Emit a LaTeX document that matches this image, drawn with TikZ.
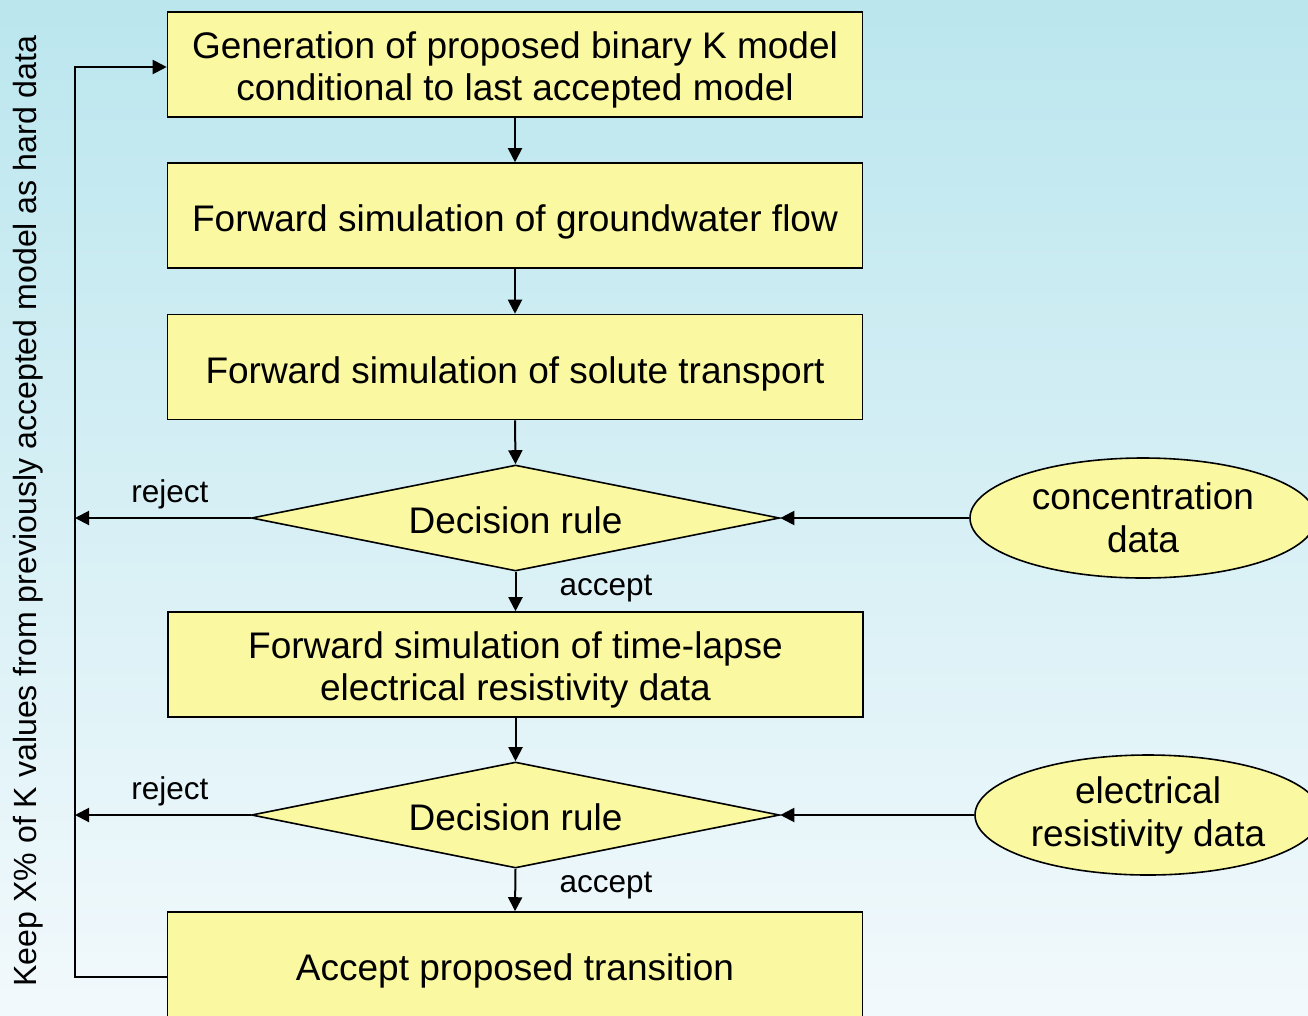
\documentclass[tikz,border=0pt]{standalone}
\usepackage{fontspec}
\setmainfont{Liberation Sans}
\usetikzlibrary{shapes.geometric,arrows.meta}
\definecolor{bgtop}{RGB}{187,230,238}
\definecolor{bgbot}{RGB}{242,249,252}
\definecolor{boxfill}{RGB}{250,248,160}
\tikzset{
  stepbox/.style={draw=black, line width=1.6pt, fill=boxfill, rectangle,
    minimum width=695pt, minimum height=105pt, inner sep=0pt, align=center,
    font=\fontsize{37}{42}\selectfont, text height=32pt, text depth=0pt},
  twoline/.style={text height=71pt, text depth=0pt},
  decide/.style={draw=black, line width=1.6pt, fill=boxfill, diamond,
    minimum width=528pt, minimum height=106pt, aspect=5, inner sep=0pt,
    font=\fontsize{37}{42}\selectfont, text height=30pt, text depth=0pt},
  datasrc/.style={draw=black, line width=1.6pt, fill=boxfill, ellipse,
    minimum width=346pt, minimum height=120pt, inner sep=0pt, align=center,
    font=\fontsize{37}{43}\selectfont},
  arr/.style={line width=2pt, -{Triangle[length=14pt,width=14pt]}},
  lbl/.style={font=\fontsize{31.5}{36}\selectfont, anchor=base, inner sep=0pt}
}
\begin{document}
\begin{tikzpicture}[x=1pt, y=-1pt]
  \useasboundingbox (0,0) rectangle (1308,1015);
  \clip (0,0) rectangle (1308,1015);
  \shade[top color=bgtop, bottom color=bgbot] (0,0) rectangle (1308,1015);

  % process steps
  \node[stepbox, twoline] (gen) at (515,64.5) {Generation of proposed binary K model\\conditional to last accepted model};
  \node[stepbox] (flow) at (515,215.5) {Forward simulation of groundwater flow};
  \node[stepbox] (trans) at (515,367) {Forward simulation of solute transport};
  \node[decide] (dec1) at (515.5,518) {Decision rule};
  \node[stepbox, twoline] (ert) at (515.5,664.5) {Forward simulation of time-lapse\\electrical resistivity data};
  \node[decide] (dec2) at (515.5,815) {Decision rule};
  \node[stepbox] (acc) at (515,964.5) {Accept proposed transition};

  % observed data
  \node[datasrc] (conc) at (1143,518) {concentration\\data};
  \node[datasrc] (resd) at (1148,815) {electrical\\resistivity data};

  % main chain
  \draw[arr] (gen.south) -- (flow.north);
  \draw[arr] (flow.south) -- (trans.north);
  \draw[arr] (trans.south) -- (dec1.north);
  \draw[arr] (dec1.south) -- (ert.north);
  \draw[arr] (ert.south) -- (dec2.north);
  \draw[arr] (dec2.south) -- (acc.north);

  % data feeding the decision rules
  \draw[arr] (conc.west) -- (dec1.east);
  \draw[arr] (resd.west) -- (dec2.east);

  % feedback loop
  \coordinate (loopB) at (75,977);
  \coordinate (loopT) at (75,67);
  \draw[arr] (loopB -| acc.west) -- (loopB) -- (loopT) -- (loopT -| gen.west);
  \draw[arr] (dec1.west) -- (dec1.west -| loopT);
  \draw[arr] (dec2.west) -- (dec2.west -| loopT);

  % branch labels
  \node[lbl] (rej1) at (170,502) {reject};
  \node[lbl] (acc1) at (606,595) {accept};
  \node[lbl] (rej2) at (170,799) {reject};
  \node[lbl] (acc2) at (606,892) {accept};

  % loop description
  \node[rotate=90, font=\fontsize{32.1}{36}\selectfont, inner sep=0pt] (keep) at (28,511)
    {Keep X\% of K values from previously accepted model as hard data};
\end{tikzpicture}
\end{document}
